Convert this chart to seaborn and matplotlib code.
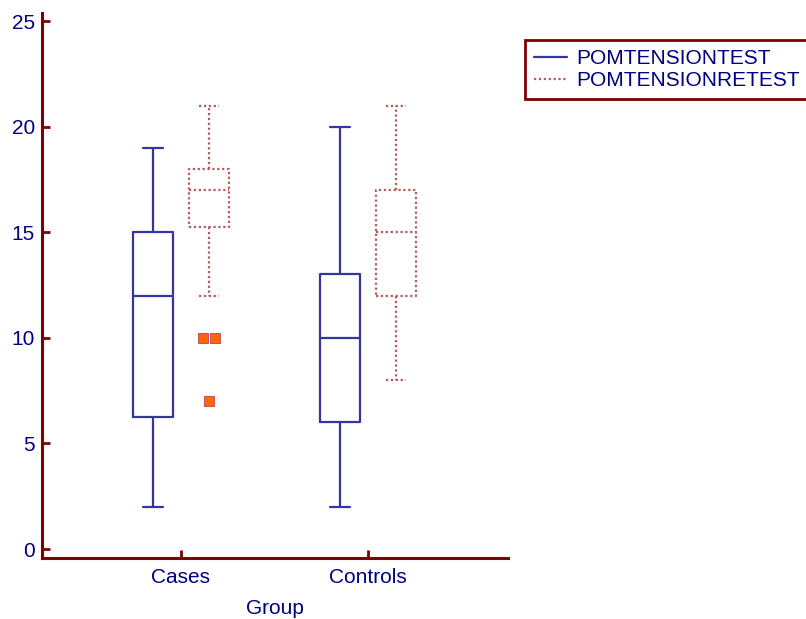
import numpy as np
import pandas as pd
import seaborn as sns
import matplotlib
matplotlib.use("Agg")
import matplotlib.pyplot as plt
from matplotlib.lines import Line2D

# ---- data ----
groups = ["Cases", "Controls"]
tests = ["POMTENSIONTEST", "POMTENSIONRETEST"]
# five-number summaries: [lower whisker, Q1, median, Q3, upper whisker]
cases_test = [2, 6.25, 12, 15, 19]
cases_retest = [12, 15.25, 17, 18, 21]
controls_test = [2, 6, 10, 13, 20]
controls_retest = [8, 12, 15, 17, 21]
cases_retest_outliers = [10, 10, 7]
y_ticks = [0, 5, 10, 15, 20, 25]

# ---- styling ----
BLUE = "#35359e"
RED = "#b85a5a"
AXIS = "#800000"
TEXT = "#000080"
ORANGE = "#ff6600"
FS = 15

sns.set_style("white")
plt.rcParams["font.family"] = ["Liberation Sans", "DejaVu Sans"]

rows = []
for g, t, vals in [("Cases", tests[0], cases_test), ("Cases", tests[1], cases_retest),
                   ("Controls", tests[0], controls_test), ("Controls", tests[1], controls_retest)]:
    for v in vals:
        rows.append({"Group": g, "Test": t, "Value": v})
df = pd.DataFrame(rows)

fig = plt.figure(figsize=(8.06, 6.19), dpi=100)
ax = fig.add_axes([42 / 806, 1 - 558 / 619, (508 - 42) / 806, (558 - 13) / 619])

sns.boxplot(data=df, x="Group", y="Value", hue="Test", order=groups, hue_order=tests,
            palette=[BLUE, RED], fill=False, width=0.6, gap=0.3, whis=(0, 100),
            linewidth=1.6, legend=False, ax=ax)

# dotted style for retest boxes (containers follow hue order)
box_conts = [c for c in ax.containers if hasattr(c, "boxes")]
for i, cont in enumerate(box_conts):
    if i % 2 == 1:
        for art in list(cont.boxes) + list(cont.medians) + list(cont.whiskers) + list(cont.caps):
            art.set_linestyle((0, (1, 1.2)))
            art.set_linewidth(1.6)

# outliers of Cases retest, placed side-by-side when tied
hue_offset = 0.15
spread = 0.03
xs = []
seen = {}
for v in cases_retest_outliers:
    cnt = cases_retest_outliers.count(v)
    k = seen.get(v, 0)
    seen[v] = k + 1
    off = (k - (cnt - 1) / 2) * 2 * spread
    xs.append(groups.index("Cases") + hue_offset + off)
sns.scatterplot(x=xs, y=cases_retest_outliers, marker="s", s=60, color=ORANGE,
                edgecolor="#c04060", linewidth=0.6, legend=False, ax=ax, zorder=5)

ax.set_xlim(-0.743, 1.749)
ax.set_ylim(-0.426, 25.38)
ax.set_yticks(y_ticks)
ax.set_xticks([0, 1])
ax.set_xticklabels(groups)
ax.set_xlabel("Group", color=TEXT, fontsize=FS, labelpad=9)
ax.set_ylabel("")

for s in ["top", "right"]:
    ax.spines[s].set_visible(False)
for s in ["left", "bottom"]:
    ax.spines[s].set_color(AXIS)
    ax.spines[s].set_linewidth(2.2)
ax.tick_params(axis="both", direction="in", length=6, width=2, color=AXIS,
               labelcolor=TEXT, labelsize=FS, bottom=True, left=True)
ax.tick_params(axis="y", pad=5)
ax.tick_params(axis="x", pad=7)

handles = [Line2D([], [], color=BLUE, lw=1.6),
           Line2D([], [], color=RED, lw=1.6, ls=(0, (1, 1.2)))]
leg = fig.legend(handles, tests, loc="upper left", bbox_to_anchor=(525 / 806, 1 - 40 / 619),
                 frameon=True, fancybox=False, edgecolor=AXIS, framealpha=1,
                 borderpad=0.45, borderaxespad=0, handlelength=1.55, handletextpad=0.48,
                 labelspacing=0.12, fontsize=FS, labelcolor=TEXT)
leg.get_frame().set_linewidth(2)

fig.savefig("out.png", dpi=100)
